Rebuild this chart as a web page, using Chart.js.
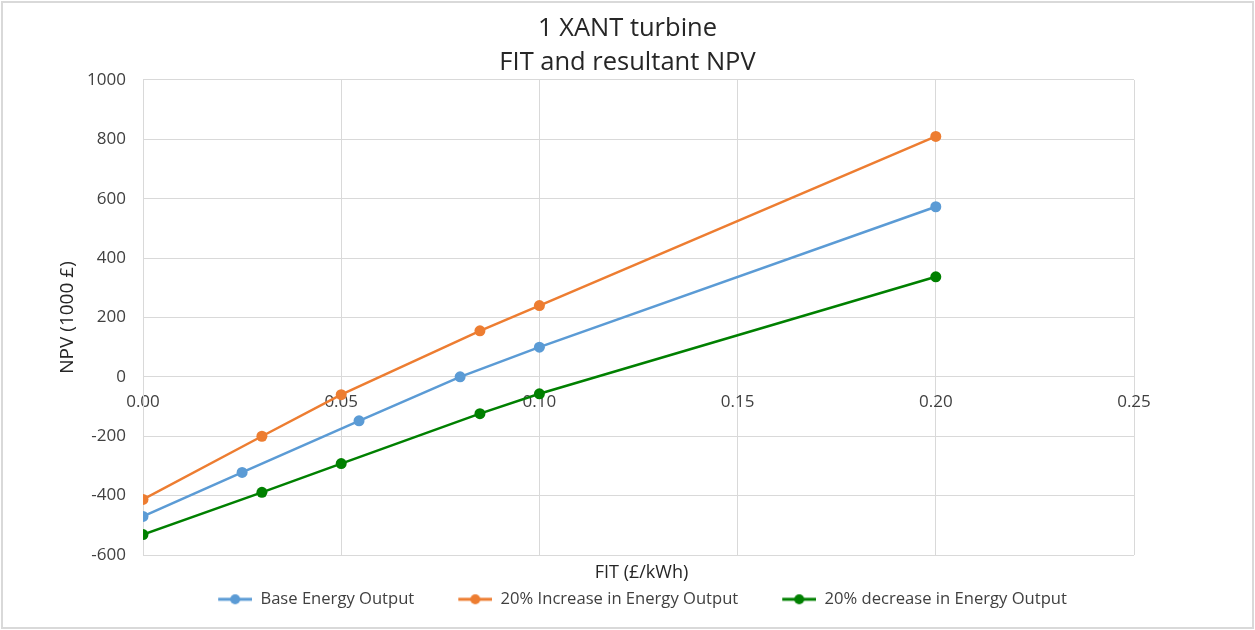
<!DOCTYPE html>
<html>
<head>
<meta charset="utf-8">
<script src="https://cdn.jsdelivr.net/npm/chart.js@4/dist/chart.umd.min.js"></script>
<style>
  body { margin: 0; background: #fff; }
  #wrap { width: 1255px; height: 630px; }
</style>
</head>
<body>
<div id="wrap"><canvas id="myChart" width="1255" height="630"></canvas></div>
<script>
// data
var fitBase = [0, 0.025, 0.0545, 0.08, 0.1, 0.2];
var npvBase = [-470, -322, -148, 0, 100, 573];
var fitUp = [0, 0.03, 0.05, 0.085, 0.1, 0.2];
var npvUp = [-413, -200, -60, 155, 240, 810];
var fitDown = [0, 0.03, 0.05, 0.085, 0.1, 0.2];
var npvDown = [-531, -389, -292, -124, -57, 337];

var seriesNames = ['Base Energy Output', '20% Increase in Energy Output', '20% decrease in Energy Output'];
var seriesColors = ['#5B9BD5', '#ED7D31', '#008000'];
var titleLines = ['1 XANT turbine', 'FIT and resultant NPV'];
var xTitle = 'FIT (£/kWh)';
var yTitle = 'NPV (1000 £)';

var FONT = "'Open Sans', sans-serif";
var TXT = '#404040';
var TITLE_TXT = '#262626';
var GRID = '#d9d9d9';

const toPoints = function (xs, ys) {
  return xs.map(function (x, i) { return { x: x, y: ys[i] }; });
};

// little line+dot picture for the legend, like Excel
const legendMark = function (color) {
  const c = document.createElement('canvas');
  c.width = 42; c.height = 14;
  const ctx = c.getContext('2d');
  ctx.strokeStyle = color;
  ctx.lineWidth = 3;
  ctx.beginPath(); ctx.moveTo(8, 7); ctx.lineTo(42, 7); ctx.stroke();
  ctx.fillStyle = color;
  ctx.beginPath(); ctx.arc(25, 7, 5, 0, Math.PI * 2); ctx.fill();
  return c;
};

const frame = {
  id: 'frame',
  beforeDraw(chart) {
    const ctx = chart.ctx;
    ctx.save();
    ctx.fillStyle = '#fff';
    ctx.fillRect(0, 0, chart.width, chart.height);
    ctx.strokeStyle = '#d9d9d9';
    ctx.lineWidth = 2;
    ctx.strokeRect(2, 2, chart.width - 4, chart.height - 4);
    ctx.restore();
  },
  afterDraw(chart) {
    const ctx = chart.ctx, a = chart.chartArea;
    ctx.save();
    ctx.fillStyle = TITLE_TXT;
    ctx.font = "18px " + FONT;
    ctx.textAlign = 'center';
    ctx.textBaseline = 'middle';
    ctx.fillText(xTitle, (a.left + a.right) / 2 + 3, a.bottom + 18);
    ctx.restore();
  }
};

const legendSize = {
  id: 'legendSize',
  beforeInit(chart) {
    const fit = chart.legend.fit;
    chart.legend.fit = function () {
      fit.bind(chart.legend)();
      this.height = 75;
    };
  }
};

const datasets = [[fitBase, npvBase], [fitUp, npvUp], [fitDown, npvDown]].map(function (s, i) {
  return {
    label: seriesNames[i],
    data: toPoints(s[0], s[1]),
    showLine: true,
    borderColor: seriesColors[i],
    backgroundColor: seriesColors[i],
    borderWidth: 2.5,
    pointRadius: 5.5,
    pointHoverRadius: 5.5,
    pointBorderWidth: 0,
    pointStyle: 'circle'
  };
});

var myChart = new Chart(document.getElementById('myChart').getContext('2d'), {
  type: 'scatter',
  data: { datasets: datasets },
  plugins: [frame, legendSize],
  options: {
    responsive: false,
    animation: false,
    layout: { padding: { left: 0, right: 0, top: 0, bottom: 0 } },
    plugins: {
      title: {
        display: true,
        text: titleLines,
        color: TITLE_TXT,
        font: { family: FONT, size: 25.5, weight: 'normal', lineHeight: 1.333 },
        padding: { top: 12, bottom: 0 }
      },
      legend: {
        position: 'bottom',
        fullSize: false,
        labels: {
          color: TXT,
          font: { family: FONT, size: 16.6 },
          padding: 36,
          usePointStyle: true,
          pointStyleWidth: 42,
          generateLabels: function (chart) {
            return chart.data.datasets.map(function (ds, i) {
              return {
                text: ds.label,
                fontColor: TXT,
                pointStyle: legendMark(ds.borderColor),
                datasetIndex: i,
                lineWidth: 0,
                strokeStyle: 'transparent',
                fillStyle: 'transparent'
              };
            });
          }
        }
      },
      tooltip: { enabled: false }
    },
    scales: {
      x: {
        type: 'linear',
        position: { y: 0 },
        min: 0, max: 0.25,
        grid: { color: GRID, lineWidth: 1, drawTicks: false },
        border: { color: GRID, width: 1 },
        ticks: {
          stepSize: 0.05,
          color: TXT,
          padding: 15,
          font: { family: FONT, size: 17 },
          maxRotation: 0,
          callback: function (v) { return v.toFixed(2); }
        }
      },
      y: {
        type: 'linear',
        position: 'left',
        min: -600, max: 1000,
        grid: { color: GRID, lineWidth: 1, drawTicks: false },
        border: { color: GRID, width: 1 },
        ticks: {
          stepSize: 200,
          color: TXT,
          padding: 17,
          font: { family: FONT, size: 17 },
          callback: function (v) { return String(v); }
        },
        title: {
          display: true,
          text: yTitle,
          color: TITLE_TXT,
          font: { family: FONT, size: 19 },
          padding: { top: 56, bottom: 0 }
        },
        afterFit: function (s) { s.width = 143; }
      },
      y2: {
        type: 'linear',
        position: 'right',
        display: true,
        grid: { display: false, drawTicks: false },
        border: { display: false },
        ticks: { display: false },
        afterFit: function (s) { s.width = 121; }
      }
    }
  }
});
console.log(myChart.chartArea);
</script>
</body>
</html>
